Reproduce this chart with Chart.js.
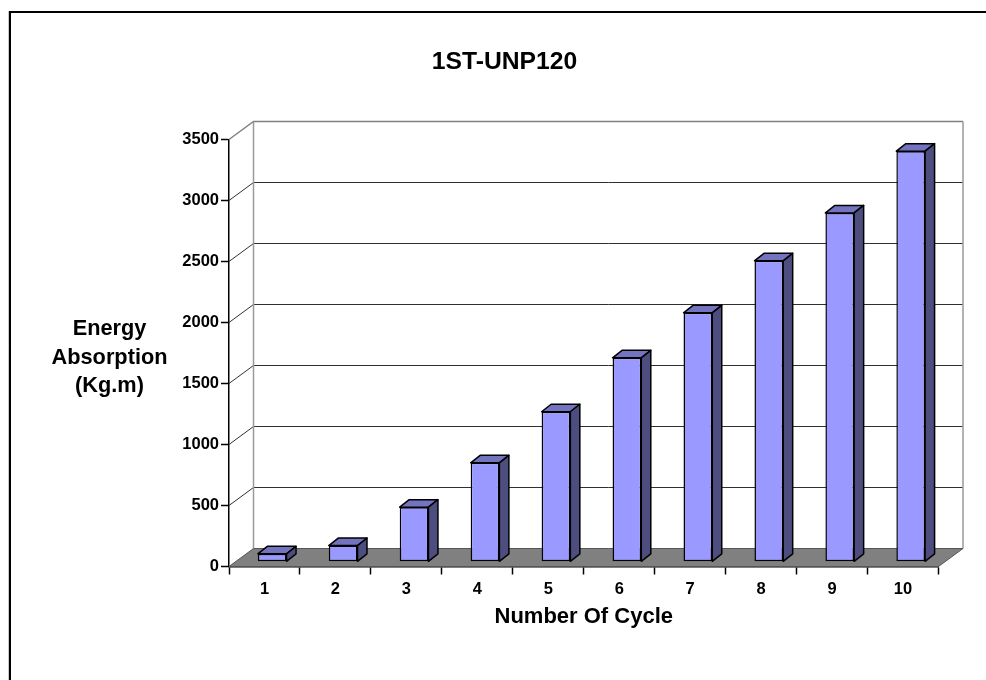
<!doctype html>
<html lang="en">
<head>
<meta charset="utf-8">
<title>1ST-UNP120</title>
<script src="https://cdn.jsdelivr.net/npm/chart.js@4"></script>
<style>
  html, body { margin: 0; background: #fff; }
  canvas { display: block; }
</style>
</head>
<body>
<canvas id="myChart" width="986" height="680"></canvas>
<script>
var cycles = ["1", "2", "3", "4", "5", "6", "7", "8", "9", "10"];
var energy = [65, 133, 448, 811, 1230, 1672, 2041, 2467, 2860, 3366];
var yTicks = [0, 500, 1000, 1500, 2000, 2500, 3000, 3500];
var chartTitle = "1ST-UNP120";
var yTitleLines = ["Energy", "Absorption", "(Kg.m)"];
var xTitle = "Number Of Cycle";

var FONT = '"Liberation Sans", Arial, sans-serif';
var wallDx = 24.5, wallDy = -18;     // front axes -> back wall
var barDx = 7.7, barDy = -4.7;       // bars stand a little behind the front axes
var depthDx = 9.5, depthDy = -7.5;   // depth of one bar

// frame, floor and back wall, behind everything else
var wallPlugin = {
  id: "wall",
  beforeDatasetsDraw: function(chart) {
    var c = chart.ctx, a = chart.chartArea, y = chart.scales.y;
    c.save();
    // frame runs off the right and bottom of the page
    c.strokeStyle = "#c8c8c8"; c.lineWidth = 1;
    c.beginPath(); c.moveTo(8.5, 11); c.lineTo(8.5, 680); c.stroke();
    c.strokeStyle = "#000"; c.lineWidth = 2;
    c.beginPath(); c.moveTo(10, 680); c.lineTo(10, 12); c.lineTo(986, 12); c.stroke();

    // gridlines on side wall and back wall
    yTicks.forEach(function(v) {
      var py = y.getPixelForValue(v);
      if (v === 0) return;
      var top = v === yTicks[yTicks.length - 1];
      c.beginPath();
      c.moveTo(a.left, py);
      c.lineTo(a.left + wallDx, py + wallDy);
      c.lineTo(a.right + wallDx, py + wallDy);
      c.strokeStyle = top ? "#808080" : "#303030";
      c.lineWidth = top ? 1.5 : 1;
      c.stroke();
    });
    // wall verticals
    var yTop = y.getPixelForValue(yTicks[yTicks.length - 1]) + wallDy;
    var yBack = a.bottom + wallDy;
    c.strokeStyle = "#9a9a9a"; c.lineWidth = 1.5;
    c.beginPath();
    c.moveTo(a.left + wallDx, yTop); c.lineTo(a.left + wallDx, yBack);
    c.moveTo(a.right + wallDx, yTop); c.lineTo(a.right + wallDx, yBack);
    c.stroke();
    // floor
    c.beginPath();
    c.moveTo(a.left, a.bottom);
    c.lineTo(a.left + wallDx, yBack);
    c.lineTo(a.right + wallDx, yBack);
    c.lineTo(a.right, a.bottom);
    c.closePath();
    c.fillStyle = "#808080";
    c.fill();
    c.strokeStyle = "#555"; c.lineWidth = 1;
    c.stroke();

    // titles the library can't place here
    c.fillStyle = "#000";
    c.textAlign = "center";
    c.textBaseline = "middle";
    c.font = "bold 24.7px " + FONT;
    c.fillText(chartTitle, 504.5, 62);
    c.font = "bold 21.75px " + FONT;
    yTitleLines.forEach(function(s, i) {
      c.fillText(s, 109.5, 329 + i * 28.5);
    });
    c.restore();
  },
  // bars are shifted back from the front plane
  beforeDatasetDraw: function(chart) {
    chart.ctx.save();
    chart.ctx.translate(barDx, barDy);
  },
  afterDatasetDraw: function(chart, args) {
    var c = chart.ctx;
    args.meta.data.forEach(function(bar) {
      var l = bar.x - bar.width / 2, r = bar.x + bar.width / 2, t = bar.y, b = bar.base;
      c.lineWidth = 1.5;
      c.strokeStyle = "#000";
      c.lineJoin = "round";
      // top face
      c.beginPath();
      c.moveTo(l, t); c.lineTo(l + depthDx, t + depthDy); c.lineTo(r + depthDx, t + depthDy); c.lineTo(r, t);
      c.closePath();
      c.fillStyle = "#7373bf";
      c.fill(); c.stroke();
      // right face
      c.beginPath();
      c.moveTo(r, t); c.lineTo(r + depthDx, t + depthDy); c.lineTo(r + depthDx, b + depthDy); c.lineTo(r, b);
      c.closePath();
      c.fillStyle = "#4d4d80";
      c.fill(); c.stroke();
    });
    c.restore();
  }
};

new Chart(document.getElementById("myChart"), {
  type: "bar",
  data: {
    labels: cycles,
    datasets: [{
      data: energy,
      backgroundColor: "#9999ff",
      borderColor: "#000",
      borderWidth: 1.5,
      borderSkipped: false,
      barPercentage: 0.405,
      categoryPercentage: 1,
      clip: false
    }]
  },
  options: {
    responsive: false,
    animation: false,
    layout: { padding: { left: 0, right: 47.5, top: 139.5, bottom: 0 } },
    plugins: { legend: { display: false }, tooltip: { enabled: false } },
    scales: {
      x: {
        afterFit: function(s) { s.height = 680 - 566.5; },
        border: { color: "#000", width: 1.5 },
        grid: { drawOnChartArea: false, color: "#000", tickLength: 8, tickWidth: 1.5, offset: true },
        ticks: { color: "#000", font: { family: FONT, size: 16.5, weight: "bold" }, padding: 5, maxRotation: 0 },
        title: {
          display: true, text: xTitle, color: "#000",
          font: { family: FONT, size: 22, weight: "bold" },
          padding: { top: 0, bottom: 50 }
        }
      },
      y: {
        min: 0, max: 3500,
        afterFit: function(s) { s.width = 229; },
        afterBuildTicks: function(s) { s.ticks = yTicks.map(function(v) { return { value: v }; }); },
        border: { color: "#000", width: 1.5 },
        grid: { drawOnChartArea: false, color: "#000", tickLength: 8, tickWidth: 1.5 },
        ticks: {
          color: "#000", font: { family: FONT, size: 16.5, weight: "bold" }, padding: 2,
          callback: function(v) { return String(v); }
        }
      }
    }
  },
  plugins: [wallPlugin]
});
</script>
</body>
</html>
